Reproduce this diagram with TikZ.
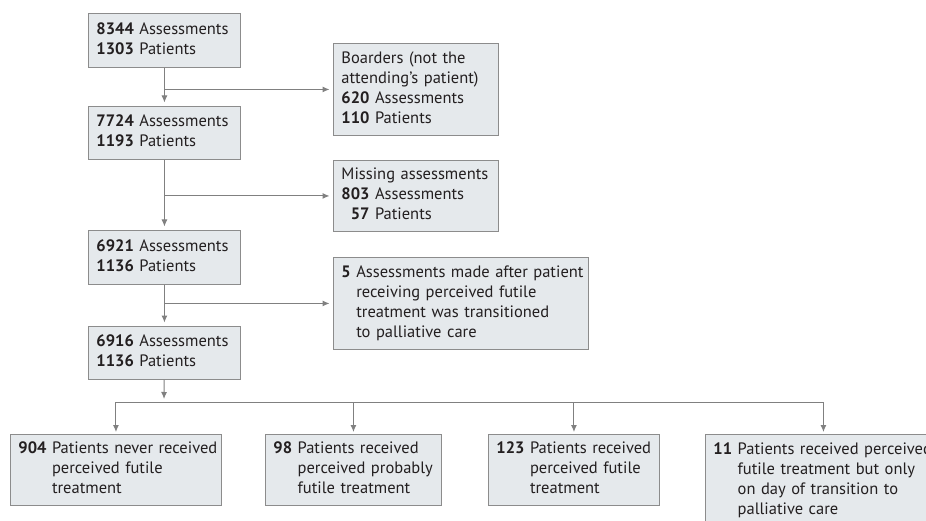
\documentclass[tikz,border=0pt]{standalone}
\usepackage{fontspec}
\setmainfont{PT Sans}
\usetikzlibrary{arrows.meta}

\definecolor{boxfill}{RGB}{229,233,236}
\definecolor{boxline}{RGB}{140,140,140}
\definecolor{arrline}{RGB}{128,128,128}
\definecolor{txt}{RGB}{35,31,32}

\tikzset{
  flowbox/.style={draw=boxline, fill=boxfill, line width=0.9pt, anchor=north west,
    inner xsep=8pt, inner ysep=0pt, align=left, text=txt,
    font=\fontsize{16.5}{20}\selectfont},
  arr/.style={draw=arrline, line width=1pt, -{Latex[length=7pt,width=6pt]}, shorten >=3.5pt},
  busline/.style={draw=arrline, line width=1pt},
}

\begin{document}
\begin{tikzpicture}[x=1pt,y=-1pt]
\fill[white] (0,0) rectangle (926,521);
\useasboundingbox (0,0) rectangle (926,521);

% main column
\node[flowbox, text width=136pt, minimum height=54pt] (b1) at (88,13)
  {\begin{tabular}{@{}r@{\ }l@{}}\textbf{8344} & Assessments\\ \textbf{1303} & Patients\end{tabular}};
\node[flowbox, text width=136pt, minimum height=53pt] (b2) at (88,106)
  {\begin{tabular}{@{}r@{\ }l@{}}\textbf{7724} & Assessments\\ \textbf{1193} & Patients\end{tabular}};
\node[flowbox, text width=136pt, minimum height=54pt] (b3) at (88,230)
  {\begin{tabular}{@{}r@{\ }l@{}}\textbf{6921} & Assessments\\ \textbf{1136} & Patients\end{tabular}};
\node[flowbox, text width=136pt, minimum height=53pt] (b4) at (88,326)
  {\begin{tabular}{@{}r@{\ }l@{}}\textbf{6916} & Assessments\\ \textbf{1136} & Patients\end{tabular}};

% exclusions
\node[flowbox, text width=149pt, minimum height=92pt] (ex1) at (333,43)
  {\begin{tabular}{@{}r@{\ }l@{}}\multicolumn{2}{@{}l@{}}{Boarders (not the}\\
   \multicolumn{2}{@{}l@{}}{attending’s patient)}\\
   \textbf{620} & Assessments\\ \textbf{110} & Patients\end{tabular}};
\node[flowbox, text width=149pt, minimum height=71pt] (ex2) at (333,160)
  {\begin{tabular}{@{}r@{\ }l@{}}\multicolumn{2}{@{}l@{}}{Missing assessments}\\
   \textbf{803} & Assessments\\ \textbf{57} & Patients\end{tabular}};
\node[flowbox, text width=239pt, minimum height=92pt] (ex3) at (333,257)
  {\begin{tabular}{@{}l@{\ }l@{}}\textbf{5} & Assessments made after patient\\
   & receiving perceived futile\\ & treatment was transitioned\\ & to palliative care\end{tabular}};

% outcomes
\node[flowbox, text width=195pt, minimum height=71pt] (c1) at (10,434)
  {\begin{tabular}{@{}l@{\ }l@{}}\textbf{904} & Patients never received\\
   & perceived futile\\ & treatment\end{tabular}};
\node[flowbox, text width=160pt, minimum height=71pt] (c2) at (265,434)
  {\begin{tabular}{@{}l@{\ }l@{}}\textbf{98} & Patients received\\
   & perceived probably\\ & futile treatment\end{tabular}};
\node[flowbox, text width=155pt, minimum height=71pt] (c3) at (488,434)
  {\begin{tabular}{@{}l@{\ }l@{}}\textbf{123} & Patients received\\
   & perceived futile\\ & treatment\end{tabular}};
\node[flowbox, text width=220pt, minimum height=93pt] (c4) at (705,434)
  {\begin{tabular}{@{}l@{\ }l@{}}\textbf{11} & Patients received perceived\\
   & futile treatment but only\\ & on day of transition to\\ & palliative care\end{tabular}};

% connectors
\draw[arr] (b1) -- (b2);
\draw[arr] (b1.south |- ex1.west) -- (ex1.west);
\draw[arr] (b2) -- (b3);
\draw[arr] (b2.south |- ex2.west) -- (ex2.west);
\draw[arr] (b3) -- (b4);
\draw[arr] (b3.south |- ex3.west) -- (ex3.west);

\coordinate (bus) at (164,402);
\draw[arr, shorten >=3pt] (b4) -- (bus);
\draw[busline] (c1.north |- bus) -- (c4.north |- bus);
\foreach \c in {c1,c2,c3,c4}
  \draw[arr, shorten >=2pt] (\c.north |- bus) -- (\c);
\end{tikzpicture}
\end{document}
